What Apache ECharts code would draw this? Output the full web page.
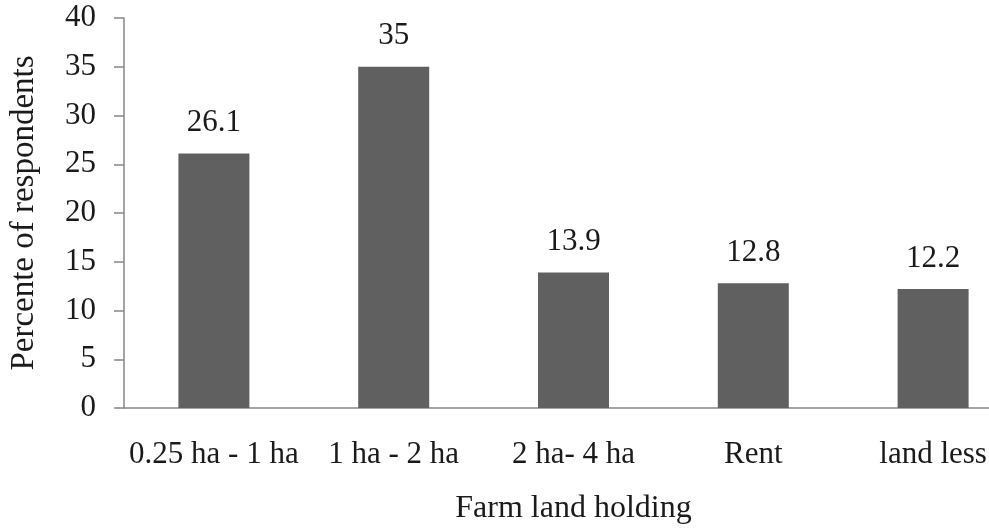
<!DOCTYPE html>
<html>
<head>
<meta charset="utf-8">
<script src="https://cdn.jsdelivr.net/npm/echarts@6/dist/echarts.min.js"></script>
<style>
html,body{margin:0;padding:0;background:#fff;overflow:hidden;width:989px;height:530px;}
#chart{width:1023px;height:530px;}
</style>
</head>
<body>
<div id="chart"></div>
<script>
const categories = ['0.25 ha - 1 ha', '1 ha - 2 ha', '2 ha- 4 ha', 'Rent', 'land less'];
const values = [26.1, 35, 13.9, 12.8, 12.2];
const valueLabels = ['26.1', '35', '13.9', '12.8', '12.2'];
const yTicks = [0, 5, 10, 15, 20, 25, 30, 35, 40];
const xTitle = 'Farm land holding';
const yTitle = 'Percente of respondents';

const FONT = '"Liberation Serif", "Times New Roman", serif';
const TXT = '#1a1a1a';
const AX = '#868686';

const chart = echarts.init(document.getElementById('chart'), null, {renderer: 'canvas'});
chart.setOption({
  animation: false,
  backgroundColor: '#ffffff',
  grid: {left: 121, right: 0, top: 18, bottom: 121, containLabel: false},
  xAxis: {
    type: 'category',
    data: categories,
    name: xTitle,
    nameLocation: 'middle',
    nameGap: 85,
    nameTextStyle: {fontFamily: FONT, fontSize: 32, color: TXT},
    axisLine: {show: true, lineStyle: {color: AX, width: 1.5}},
    axisTick: {show: false},
    axisLabel: {fontFamily: FONT, fontSize: 31, color: TXT, margin: 31, interval: 0},
    splitLine: {show: false}
  },
  yAxis: {
    type: 'value',
    min: yTicks[0],
    max: yTicks[yTicks.length - 1],
    interval: yTicks[1] - yTicks[0],
    name: yTitle,
    nameLocation: 'middle',
    nameGap: 83,
    nameRotate: 90,
    nameTextStyle: {fontFamily: FONT, fontSize: 33, color: TXT},
    axisLine: {show: true, lineStyle: {color: AX, width: 1.5}},
    axisTick: {show: true, length: 10, lineStyle: {color: AX, width: 1.5}},
    axisLabel: {fontFamily: FONT, fontSize: 31, color: TXT, margin: 28},
    splitLine: {show: false}
  },
  series: [{
    type: 'bar',
    data: values,
    barWidth: 71,
    itemStyle: {color: '#606060'},
    label: {
      show: true,
      position: 'top',
      distance: 15,
      fontFamily: FONT,
      fontSize: 31,
      color: TXT,
      formatter: p => valueLabels[p.dataIndex]
    }
  }]
});
</script>
</body>
</html>
